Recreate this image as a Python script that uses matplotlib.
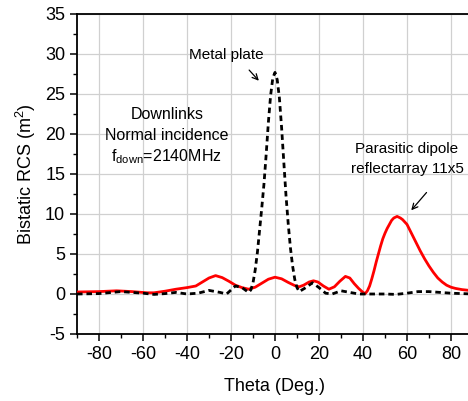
import matplotlib
matplotlib.use("Agg")
import matplotlib.pyplot as plt
from matplotlib.ticker import MultipleLocator

plt.rcParams['font.family'] = ['Liberation Sans', 'DejaVu Sans']
plt.rcParams['mathtext.fontset'] = 'custom'
plt.rcParams['mathtext.rm'] = 'Liberation Sans'
plt.rcParams['mathtext.it'] = 'Liberation Sans'
plt.rcParams['axes.unicode_minus'] = False

# Metal plate (dashed black)
metal_theta = [-90, -80, -70, -60, -55, -50, -45, -40, -35, -30, -25, -22, -18, -15, -12,
               -11, -10, -9, -8, -7, -6, -5, -4, -3, -2, -1, 0, 1, 2, 3, 4, 5, 6, 7, 8, 9,
               10, 11, 14, 17, 20, 23, 26, 30, 34, 38, 42, 50, 55, 60, 65, 70, 75, 80, 90]
metal_rcs = [0.0, 0.05, 0.3, 0.1, -0.05, 0.05, 0.2, 0.0, 0.1, 0.45, 0.2, 0.0, 1.0, 0.8, 0.2,
             0.5, 1.4, 3.0, 5.2, 8.0, 10.8, 13.8, 17.5, 21.5, 24.8, 27.0, 27.7, 26.8, 24.5,
             20.8, 16.5, 12.3, 8.8, 5.8, 3.5, 1.8, 0.8, 0.3, 0.8, 1.4, 0.8, 0.1,
             0.0, 0.4, 0.2, 0.0, 0.0, 0.0, -0.05, 0.1, 0.3, 0.3, 0.2, 0.1, 0.0]

# Parasitic dipole reflectarray 11x5 (solid red)
dipole_theta = [-90, -80, -72, -65, -58, -55, -50, -45, -40, -36, -33, -30, -27, -24, -21,
                -18, -15, -12, -9, -6, -3, 0, 3, 6, 9, 11, 13, 15.5, 17.5, 19.5, 22, 24.5,
                27, 29.5, 32, 34, 36, 38, 40, 41, 42, 43, 44, 45, 46, 47, 48, 49, 50, 51,
                52, 53, 54, 55.5, 57, 58, 60, 62, 64, 66, 68, 70, 72, 74, 76, 78, 80, 82,
                85, 90]
dipole_rcs = [0.25, 0.3, 0.4, 0.3, 0.15, 0.15, 0.35, 0.6, 0.8, 1.0, 1.5, 2.0, 2.3, 2.05, 1.6,
              1.1, 0.8, 0.6, 0.85, 1.35, 1.85, 2.1, 1.9, 1.45, 1.05, 0.9, 1.1, 1.5, 1.65, 1.5,
              1.0, 0.6, 0.9, 1.6, 2.2, 2.0, 1.3, 0.7, 0.2, 0.05, 0.4, 1.0, 1.9, 2.9, 4.0,
              5.0, 6.0, 6.9, 7.6, 8.2, 8.7, 9.2, 9.5, 9.7, 9.5, 9.3, 8.7, 7.6, 6.5, 5.4,
              4.4, 3.5, 2.7, 2.0, 1.5, 1.1, 0.85, 0.7, 0.55, 0.4]

fig = plt.figure(figsize=(4.68, 4.01), dpi=100)
ax = fig.add_axes([77/468, 67/401, 396/468, 320/401])

ax.plot(dipole_theta, dipole_rcs, color='#ff0000', lw=2.0, zorder=3, solid_joinstyle='round')
ax.plot(metal_theta, metal_rcs, color='black', lw=2.0, dashes=(2.0, 1.4), zorder=4)

ax.set_xlim(-90, 90)
ax.set_ylim(-5, 35)
ax.xaxis.set_major_locator(MultipleLocator(20))
ax.xaxis.set_minor_locator(MultipleLocator(10))
ax.yaxis.set_major_locator(MultipleLocator(5))
ax.yaxis.set_minor_locator(MultipleLocator(2.5))
ax.grid(True, which='major', color='#d0d0d0', lw=0.9)
ax.set_axisbelow(True)
ax.tick_params(which='major', direction='out', length=5, width=1.1, labelsize=13)
ax.tick_params(which='minor', direction='out', length=3, width=1.0)
for s in ax.spines.values():
    s.set_linewidth(1.3)

ax.set_xlabel('Theta (Deg.)', fontsize=13, labelpad=11)
ax.set_ylabel('Bistatic RCS (m$^{2}$)', fontsize=13, labelpad=5)

ax.text(-22.3, 29.9, 'Metal plate', fontsize=11, ha='center', va='center')
ax.annotate('', xy=(-6.5, 26.4), xytext=(-12.6, 28.25),
            arrowprops=dict(arrowstyle='->', color='black', lw=0.9))
ax.text(-49.2, 22.4, 'Downlinks', fontsize=11.5, ha='center', va='center')
ax.text(-49.2, 19.8, 'Normal incidence', fontsize=11.5, ha='center', va='center')
ax.text(-49.2, 17.2, r'f$_{\mathrm{down}}$=2140MHz', fontsize=11.5, ha='center', va='center')
ax.text(60, 18.1, 'Parasitic dipole', fontsize=11, ha='center', va='center')
ax.text(60, 15.6, 'reflectarray 11x5', fontsize=11, ha='center', va='center')
ax.annotate('', xy=(61.1, 10.2), xytext=(69.7, 12.95),
            arrowprops=dict(arrowstyle='->', color='black', lw=0.9))

fig.savefig('out.png', dpi=100, facecolor='white')
